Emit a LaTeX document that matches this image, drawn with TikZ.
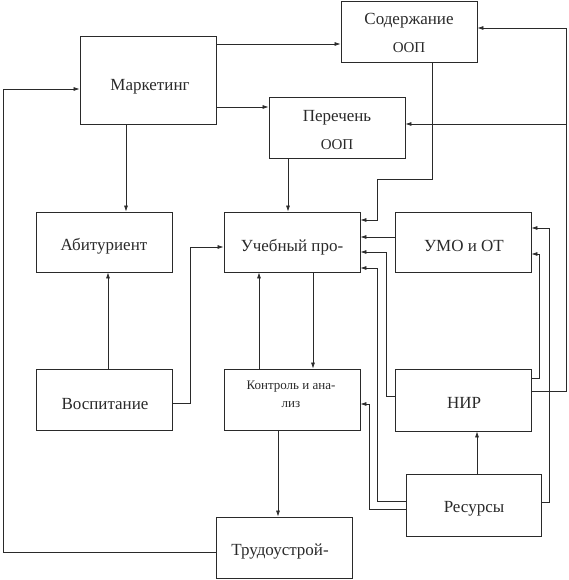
\documentclass[tikz,border=0pt]{standalone}
\usepackage{fontspec}
\setmainfont{Liberation Serif}
\usetikzlibrary{arrows.meta}
\definecolor{ink}{HTML}{2A2A2A}
\tikzset{
  box/.style={draw=ink, line width=0.8pt, minimum width=136pt, minimum height=61pt, inner sep=0pt},
  txt/.style={text=ink, font=\fontsize{17}{28}\selectfont, align=center, inner sep=0pt},
  small/.style={text=ink, font=\fontsize{13}{18}\selectfont, align=center, inner sep=0pt},
  conn/.style={draw=ink, line width=0.7pt},
  arr/.style={conn, -{Latex[length=6pt,width=4pt]}}
}
\newcommand{\oop}{{\fontsize{15}{28}\selectfont ООП}}
\begin{document}
\begin{tikzpicture}[x=1pt,y=-1pt]
\useasboundingbox (0,0) rectangle (568,580);
% boxes
\node[box, minimum height=88pt] (mk) at (148,80) {};
\node[box] (sod) at (409,31.5) {};
\node[box] (per) at (337,127.5) {};
\node[box, minimum height=60pt] (abi) at (104,242) {};
\node[box, minimum height=60pt] (ucp) at (292,242) {};
\node[box, minimum height=60pt] (umo) at (463,242) {};
\node[box] (vos) at (104,399.5) {};
\node[box] (kon) at (292,399.5) {};
\node[box, minimum height=62pt] (nir) at (463,400) {};
\node[box, minimum width=135pt, minimum height=62pt] (res) at (473.5,505) {};
\node[box] (tru) at (284,547.5) {};
% texts
\node[txt] (mkt) at (150,87) {Маркетинг};
\node[txt] (sodt) at (409,33) {Содержание\\\oop};
\node[txt] (pert) at (337,130) {Перечень\\\oop};
\node[txt] (abit) at (104,246) {Абитуриент};
\node[txt] (ucpt) at (292,247) {Учебный про-};
\node[txt] (umot) at (464,246) {УМО и ОТ};
\node[txt] (vost) at (105,404) {Воспитание};
\node[small] (kont) at (291,394) {Контроль и ана-\\лиз};
\node[txt] (nirt) at (464,403) {НИР};
\node[txt] (rest) at (474,509) {Ресурсы};
\node[txt] (trut) at (280,552) {Трудоустрой-};
% connectors
\draw[arr] (mk.east |- 0,44) -- (sod.west |- 0,44);
\draw[arr] (mk.east |- 0,107) -- (per.west |- 0,107);
\draw[arr] (mk.south -| 126,0) -- (abi.north -| 126,0);
\draw[arr] (per.south -| 288,0) -- (ucp.north -| 288,0);
\draw[arr] (sod.south -| 432,0) -- (432,179) -- (377,179) -- (377,220) -- (ucp.east |- 0,220);
\draw[arr] (umo.west |- 0,237) -- (ucp.east |- 0,237);
\draw[arr] (nir.west |- 0,396) -- (386,396) -- (386,252) -- (ucp.east |- 0,252);
\draw[arr] (res.west |- 0,501) -- (377,501) -- (377,268) -- (ucp.east |- 0,268);
\draw[arr] (res.west |- 0,509) -- (369,509) -- (369,404) -- (kon.east |- 0,404);
\draw[arr] (res.north -| 477,0) -- (nir.south -| 477,0);
\coordinate (rb) at (566,124);
\draw[arr] (nir.east |- 0,391) -- (566,391) -- (566,28) -- (sod.east |- 0,28);
\draw[arr] (rb) -- (per.east |- rb);
\draw[arr] (res.east |- 0,502) -- (549,502) -- (549,228) -- (umo.east |- 0,228);
\draw[arr] (nir.east |- 0,378) -- (539,378) -- (539,254) -- (umo.east |- 0,254);
\draw[arr] (ucp.south -| 313,0) -- (kon.north -| 313,0);
\draw[arr] (kon.north -| 259,0) -- (ucp.south -| 259,0);
\draw[arr] (vos.north -| 108,0) -- (abi.south -| 108,0);
\draw[arr] (vos.east |- 0,403) -- (190,403) -- (190,247) -- (ucp.west |- 0,247);
\draw[arr] (kon.south -| 278,0) -- (tru.north -| 278,0);
\draw[arr] (tru.west |- 0,552) -- (3,552) -- (3,89) -- (mk.west |- 0,89);
\end{tikzpicture}
\end{document}
